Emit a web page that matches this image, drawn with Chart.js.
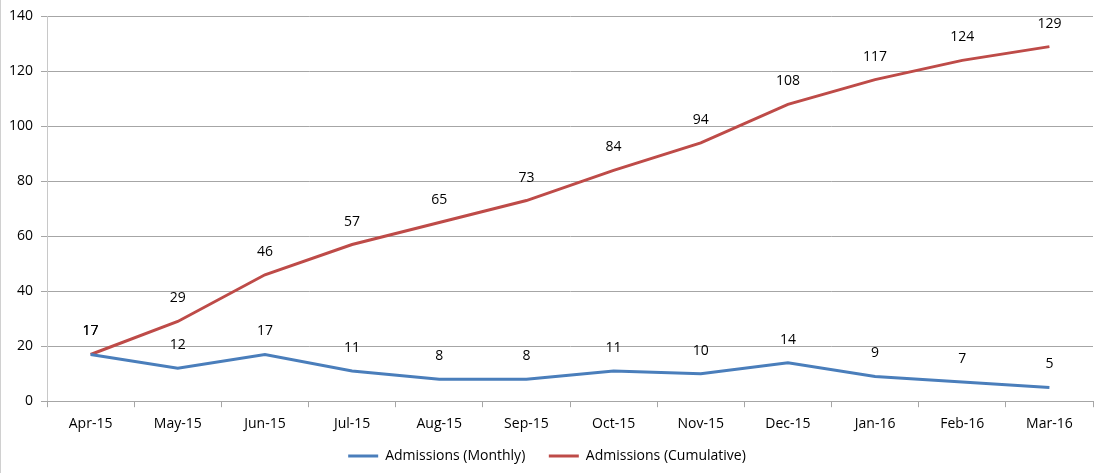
<!DOCTYPE html>
<html>
<head>
<meta charset="utf-8">
<script src="https://cdn.jsdelivr.net/npm/chart.js@4/dist/chart.umd.min.js"></script>
<style>
    html, body { margin: 0; padding: 0; background: #fff; }
    #wrap { width: 1096px; height: 473px; position: relative; box-sizing: border-box; border-left: 1px solid #d0d0d0; }
</style>
</head>
<body>
<div id="wrap"><canvas id="myChart" width="1095" height="473"></canvas></div>
<script>
const months = ['Apr-15', 'May-15', 'Jun-15', 'Jul-15', 'Aug-15', 'Sep-15', 'Oct-15', 'Nov-15', 'Dec-15', 'Jan-16', 'Feb-16', 'Mar-16'];
const monthly = [17, 12, 17, 11, 8, 8, 11, 10, 14, 9, 7, 5];
const cumulative = [17, 29, 46, 57, 65, 73, 84, 94, 108, 117, 124, 129];

const fontFamily = "'Open Sans', 'Noto Sans', sans-serif";

// draws the value above each point
const pointLabels = {
    id: 'pointLabels',
    afterDatasetsDraw(chart) {
        const ctx = chart.ctx;
        ctx.save();
        ctx.font = '14px ' + fontFamily;
        ctx.fillStyle = '#000';
        ctx.textAlign = 'center';
        ctx.textBaseline = 'middle';
        chart.data.datasets.forEach((ds, i) => {
            const meta = chart.getDatasetMeta(i);
            meta.data.forEach((pt, j) => {
                ctx.fillText(ds.data[j], pt.x, pt.y - 23);
            });
        });
        ctx.restore();
    }
};

const ctx = document.getElementById('myChart').getContext('2d');
const myChart = new Chart(ctx, {
    type: 'line',
    data: {
        labels: months,
        datasets: [{
            label: 'Admissions (Monthly)',
            data: monthly,
            borderColor: '#4a7ebb',
            backgroundColor: '#4a7ebb',
            borderWidth: 3,
            pointRadius: 0,
            tension: 0
        }, {
            label: 'Admissions (Cumulative)',
            data: cumulative,
            borderColor: '#be4b48',
            backgroundColor: '#be4b48',
            borderWidth: 3,
            pointRadius: 0,
            tension: 0
        }]
    },
    options: {
        responsive: false,
        animation: false,
        layout: {
            padding: {top: 5, right: 3, left: 0, bottom: 0}
        },
        plugins: {
            legend: {
                position: 'bottom',
                labels: {
                    usePointStyle: true,
                    pointStyle: 'line',
                    pointStyleWidth: 30,
                    boxHeight: 3,
                    color: '#000',
                    padding: 9,
                    font: {family: fontFamily, size: 14},
                    // wider gap after the first item, like the original
                    generateLabels: (chart) => {
                        const items = Chart.defaults.plugins.legend.labels.generateLabels(chart);
                        items[0].text = items[0].text + '    ';
                        return items;
                    }
                }
            },
            tooltip: {enabled: false}
        },
        scales: {
            y: {
                min: 0,
                max: 140,
                ticks: {
                    stepSize: 20,
                    color: '#000',
                    padding: 8,
                    font: {family: fontFamily, size: 14}
                },
                grid: {
                    color: '#a6a6a6',
                    drawTicks: true,
                    tickLength: 6
                },
                border: {color: '#c8c8c8'}
            },
            x: {
                offset: true,
                ticks: {
                    color: '#000',
                    padding: 8,
                    maxRotation: 0,
                    font: {family: fontFamily, size: 14}
                },
                grid: {
                    offset: true,
                    drawOnChartArea: false,
                    color: '#a6a6a6',
                    tickLength: 6
                },
                border: {color: '#a6a6a6'}
            }
        }
    },
    plugins: [pointLabels]
});
</script>
</body>
</html>
